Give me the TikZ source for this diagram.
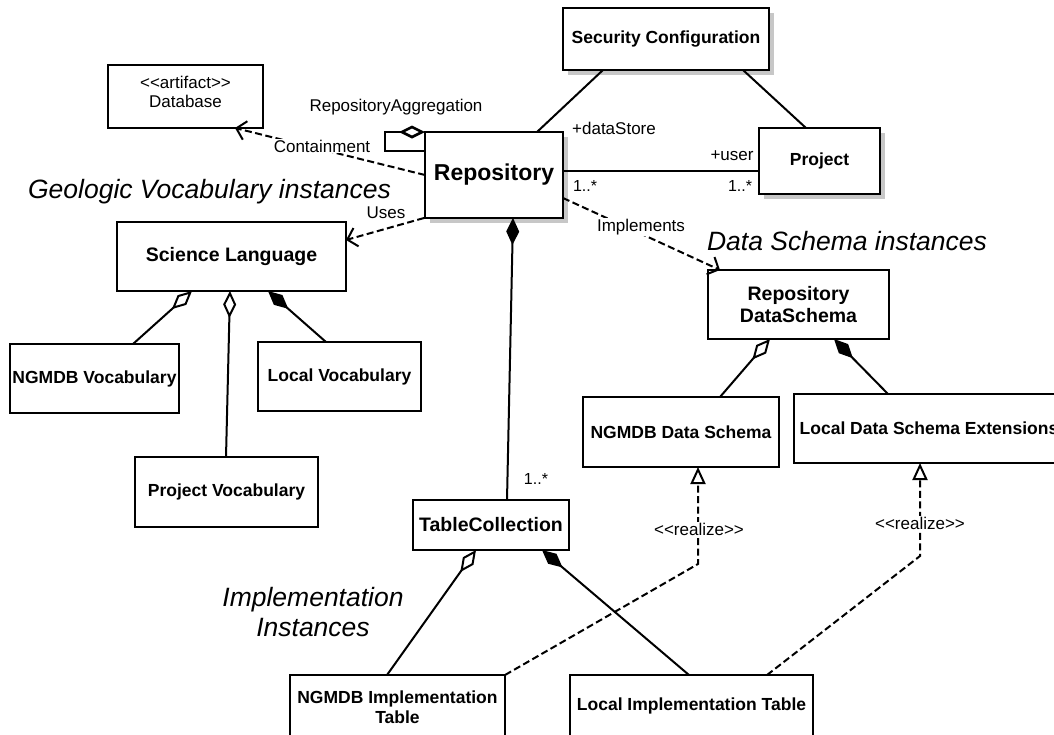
\documentclass[tikz,border=0pt]{standalone}
\usepackage{fontspec}
\setmainfont{Liberation Sans}
\usetikzlibrary{arrows.meta,calc,shadows}
\newcommand{\ltlt}{<\kern0pt<}
\newcommand{\gtgt}{>\kern0pt>}
\tikzset{
  cls/.style={draw, line width=2.4pt, fill=white, inner sep=0pt, outer sep=0pt, align=center,
    font=\bfseries\fontsize{17.5}{20}\selectfont},
  shadowed/.style={drop shadow={shadow xshift=4.5pt, shadow yshift=-4.5pt, fill=black!22, opacity=1}},
  lbl/.style={font=\fontsize{17}{20}\selectfont, inner sep=1pt},
  mult/.style={font=\fontsize{16}{19}\selectfont, inner sep=1pt},
  grouptitle/.style={font=\itshape\fontsize{26.5}{30}\selectfont, align=center, inner sep=0pt},
  assoc/.style={line width=2pt},
  agg/.style={assoc, {Diamond[open,length=27pt,width=13pt]}-},
  comp/.style={assoc, {Diamond[length=27pt,width=13pt]}-},
  dep/.style={line width=2pt, dash pattern=on 7pt off 3.5pt, -{Straight Barb[length=9pt,width=19pt]}},
  real/.style={line width=2pt, dash pattern=on 7pt off 3.5pt, -{Triangle[open,length=17pt,width=15pt]}},
}
\begin{document}
\begin{tikzpicture}[x=1pt,y=-1pt]
\useasboundingbox (0,0) rectangle (1054,734);
\fill[white] (0,0) rectangle (1054,734);

% classes
\node[cls, font=\fontsize{17}{19}\selectfont, minimum width=155pt, minimum height=63pt] (db) at (185.5,96.5) {\ltlt artifact\gtgt\\Database\\[-10pt]};
\node[cls, shadowed, minimum width=206pt, minimum height=62pt] (sec) at (666,39) {Security Configuration};
\node[cls, shadowed, line width=2.6pt, font=\bfseries\fontsize{23}{26}\selectfont, minimum width=138pt, minimum height=86pt] (repo) at (494,175) {Repository};
\node[cls, shadowed, minimum width=121pt, minimum height=66pt] (proj) at (819.5,161) {Project};
\node[cls, font=\bfseries\fontsize{19.5}{22}\selectfont, minimum width=229pt, minimum height=69pt] (sci) at (231.5,256.5) {Science Language};
\node[cls, minimum width=169pt, minimum height=69pt] (ngv) at (94.5,378.5) {NGMDB Vocabulary};
\node[cls, minimum width=163pt, minimum height=69pt] (locv) at (339.5,376.5) {Local Vocabulary};
\node[cls, minimum width=183pt, minimum height=70pt] (projv) at (226.5,492) {Project Vocabulary};
\node[cls, font=\bfseries\fontsize{19.5}{22}\selectfont, minimum width=181pt, minimum height=69pt] (rds) at (798.5,304.5) {Repository\\DataSchema};
\node[cls, minimum width=196pt, minimum height=70pt] (nds) at (681,432) {NGMDB Data Schema};
\node[cls, minimum width=270pt, minimum height=69pt] (lds) at (929,428.5) {Local Data Schema Extensions};
\node[cls, font=\bfseries\fontsize{19.5}{22}\selectfont, minimum width=156pt, minimum height=50pt] (tc) at (491,525) {TableCollection};
\node[cls, minimum width=215pt, minimum height=64pt] (nit) at (397.5,707) {NGMDB Implementation\\Table};
\node[cls, minimum width=243pt, minimum height=62pt] (lit) at (691.5,706) {Local Implementation Table};

% group titles
\node[grouptitle] (gvi) at (209.5,192) {Geologic Vocabulary instances};
\node[grouptitle] (dsi) at (847,241) {Data Schema instances};
\node[grouptitle] (ii) at (313,612) {Implementation\\Instances};

% associations
\draw[assoc] ($(repo.north west)+(112,0)$) -- ($(sec.south west)+(40,0)$);
\draw[assoc] ($(sec.south west)+(180,0)$) -- ($(proj.north west)+(47,0)$);
\coordinate (rp) at ($(repo.north east)+(0,39)$);
\draw[assoc] (rp) -- (rp -| proj.west);

% self aggregation
\draw[assoc, line width=2.6pt, {Diamond[open,length=26pt,width=13pt]}-] (repo.north west) -- ++(-40,0) -- ++(0,19) -- ($(repo.north west)+(0,19)$);

% dependencies
\draw[dep] (repo.west) -- ($(db.south west)+(127,0)$);
\draw[dep] ($(repo.south west)+(-1,0)$) -- ($(sci.north east)+(0,18)$);
\draw[dep] ($(repo.north east)+(0,66)$) -- ($(rds.north west)+(12,0)$);

% vocab
\draw[agg] ($(sci.south west)+(75,0)$) -- ($(ngv.north west)+(123,0)$);
\draw[agg] ($(sci.south west)+(113,0)$) -- ($(projv.north west)+(91,0)$);
\draw[comp] ($(sci.south west)+(151,0)$) -- ($(locv.north west)+(68,0)$);

% repository -> table collection
\draw[comp] ($(repo.south west)+(88,0)$) -- ($(tc.north west)+(94,0)$);

% data schema
\draw[agg] ($(rds.south west)+(62,0)$) -- ($(nds.north west)+(137,0)$);
\draw[comp] ($(rds.south west)+(126,0)$) -- ($(lds.north west)+(94,0)$);

% table collection
\draw[agg] ($(tc.south west)+(63,0)$) -- ($(nit.north west)+(97,0)$);
\draw[comp] ($(tc.south west)+(129,0)$) -- ($(lit.north west)+(119,0)$);

% realizations
\coordinate (b1) at (698,564);
\draw[real] (nit.north east) -- (b1) -- (b1 |- nds.south);
\coordinate (b2) at (920,556);
\draw[real] ($(lit.north west)+(197,0)$) -- (b2) -- (b2 |- lds.south);

% labels
\node[lbl] (lagg) at (396,107) {RepositoryAggregation};
\node[lbl, fill=white] (lcont) at (322,146) {Containment};
\node[lbl] (luses) at (386,213) {Uses};
\node[lbl, fill=white] (limpl) at (641,227) {Implements};
\node[lbl] (lds1) at (614,128) {+dataStore};
\node[lbl] (luser) at (732,156) {+user};
\node[mult] (m1) at (585,186) {1..*};
\node[mult] (m2) at (740,186) {1..*};
\node[mult] (m3) at (536,479) {1..*};
\node[lbl, fill=white] (lr1) at (699,529) {\ltlt realize\gtgt};
\node[lbl, fill=white] (lr2) at (920,523) {\ltlt realize\gtgt};
\end{tikzpicture}
\end{document}
